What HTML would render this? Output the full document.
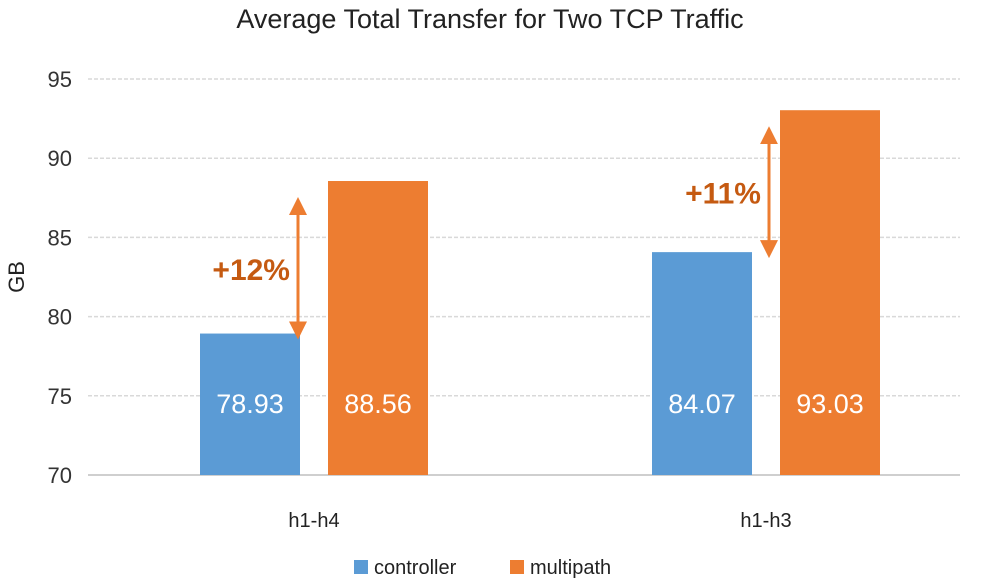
<!DOCTYPE html>
<html><head><meta charset="utf-8"><style>
body{margin:0;background:#fff;}
svg{display:block;font-family:"Liberation Sans",sans-serif;}
</style></head><body>
<svg id="chart" width="995" height="584">
<defs>
<marker id="ah" markerWidth="6" markerHeight="6" refX="3" refY="3" orient="auto-start-reverse" markerUnits="strokeWidth"><path d="M0,0 L6,3 L0,6 Z" fill="#ED7D31"/></marker>
</defs>
<text x="490" y="28" text-anchor="middle" font-size="27" fill="#222">Average Total Transfer for Two TCP Traffic</text>
<text transform="translate(24,277) rotate(-90)" text-anchor="middle" font-size="22" fill="#222">GB</text>
<g id="grid"></g><g id="bars"></g><g id="ann"></g>
<g>
<rect x="354" y="560" width="14" height="14" fill="#5B9BD5"/>
<text x="374" y="574" font-size="20" fill="#222">controller</text>
<rect x="510" y="560" width="14" height="14" fill="#ED7D31"/>
<text x="530" y="574" font-size="20" fill="#222">multipath</text>
</g>
</svg>
<script>
const categories=["h1-h4","h1-h3"];
const controller=[78.93,84.07];
const multipath=[88.56,93.03];
const yTicks=[70,75,80,85,90,95];
const gains=["+12%","+11%"];
const NS="http://www.w3.org/2000/svg";
const y=v=>475-(v-70)*(396/25);
const catX=[314,766];
function mk(p,t,a){const e=document.createElementNS(NS,t);for(const k in a)e.setAttribute(k,a[k]);p.appendChild(e);return e;}
const grid=document.getElementById('grid'),bars=document.getElementById('bars'),ann=document.getElementById('ann');
yTicks.forEach(v=>{
 const l=mk(grid,'line',{x1:88,x2:960,y1:y(v),y2:y(v),stroke:v===70?'#bfbfbf':'#d9d9d9','stroke-width':1.5,'stroke-dasharray':v===70?'':'4,2'});
 
 
 const t=mk(grid,'text',{x:72,y:y(v)+8,'text-anchor':'end','font-size':22,fill:'#333'});t.textContent=v;
 
 
});
categories.forEach((c,i)=>{
 const cx=catX[i];
 const t=mk(bars,'text',{x:cx,y:527,'text-anchor':'middle','font-size':20,fill:'#222'});t.textContent=c;
 
 
 [[controller[i],'#5B9BD5',cx-114,'controller'],[multipath[i],'#ED7D31',cx+14,'multipath']].forEach(([v,col,x,s])=>{
  const r=mk(bars,'rect',{x:x,y:y(v),width:100,height:y(70)-y(v),fill:col});
  
  
  const l=mk(bars,'text',{x:x+50,y:413,'text-anchor':'middle','font-size':27,fill:'#fff'});l.textContent=v.toFixed(2);
  
  
 });
 const ax=cx-16+(i===1?19:0);
 const a=mk(ann,'line',{x1:ax,x2:ax,y1:y(controller[i])-3,y2:y(multipath[i])+25,stroke:'#ED7D31','stroke-width':3,'marker-start':'url(#ah)','marker-end':'url(#ah)'});
 
 
 const g=mk(ann,'text',{x:ax-8,y:(y(controller[i])+y(multipath[i])+25)/2+10,'text-anchor':'end','font-size':30,'font-weight':'bold',fill:'#C55A11'});g.textContent=gains[i];
 
 
});
</script>
</body></html>
